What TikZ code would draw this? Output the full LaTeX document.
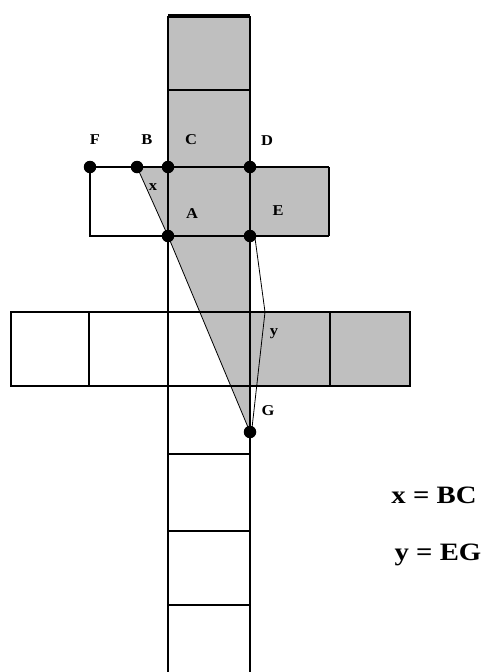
\documentclass[tikz,border=0pt]{standalone}
\usepackage{fontspec}
\setmainfont{Liberation Serif}
\usepackage{xcolor}
\usepackage{tikz}
\usetikzlibrary{positioning,calc}

\begin{document}
\begin{tikzpicture}[
  x=1pt, y=-1pt,
  shade/.style={fill=black!25, draw=none},
  edge/.style={line width=2.8pt},
  thinedge/.style={line width=1.6pt},
  fold/.style={line width=0.8pt},
  dot/.style={circle, fill=black, inner sep=0pt, minimum size=12.5pt},
  lbl/.style={font=\fontsize{15}{15}\selectfont\bfseries, inner sep=0pt, xscale=1.1},
  eqn/.style={font=\fontsize{25}{25}\selectfont\bfseries, inner sep=0pt, xscale=1.15}
]
\useasboundingbox (0,0) rectangle (490,672);

\fill[shade] (168,16) rectangle (250,236);
\fill[shade] (250,167) rectangle (329,236);
\fill[shade] (137,167) -- (168,167) -- (168,236) -- cycle;
\fill[shade] (168,236) -- (250,236) -- (250,432) -- cycle;
\fill[shade] (250,312) rectangle (410,386);

\draw[edge] (168,16) -- (168,672);
\draw[edge] (250,16) -- (250,672);
\draw[line width=4pt] (168,16) -- (250,16);
\draw[edge] (168,90) -- (250,90);
\draw[thinedge] (90,167) -- (329,167);
\draw[edge] (90,167) -- (90,236) -- (329,236);
\draw[thinedge] (329,167) -- (329,236);
\draw[edge] (11,312) rectangle (410,386);
\draw[edge] (89,312) -- (89,386);
\draw[edge] (330,312) -- (330,386);
\draw[edge] (168,454) -- (250,454);
\draw[thinedge] (168,531) -- (250,531);
\draw[edge] (168,605) -- (250,605);

\node[dot] (F) at (90,167) {};
\node[dot] (B) at (137,167) {};
\node[dot] (C) at (168,167) {};
\node[dot] (D) at (250,167) {};
\node[dot] (A) at (168,236) {};
\node[dot] (E) at (250,236) {};
\node[dot] (G) at (250,432) {};
\coordinate (bend) at (265,312);

\draw[fold] (B.center) -- (A.center);
\draw[fold] (A.center) -- (G.center);
\draw[fold] ($(E.center)+(5,2)$) -- (bend) -- ($(G.center)+(2,-4)$);

\node[lbl] at (95,140) {F};
\node[lbl] at (147,140) {B};
\node[lbl] at (191,140) {C};
\node[lbl] at (267,141) {D};
\node[lbl] at (153,187) {x};
\node[lbl] at (192,214) {A};
\node[lbl] at (278,211) {E};
\node[lbl] at (274,334) {y};
\node[lbl] at (268,411) {G};

\node[eqn] (eqx) at (434,495) {x = BC};
\node[eqn] (eqy) at (438,555) {y = EG};
\end{tikzpicture}
\end{document}
